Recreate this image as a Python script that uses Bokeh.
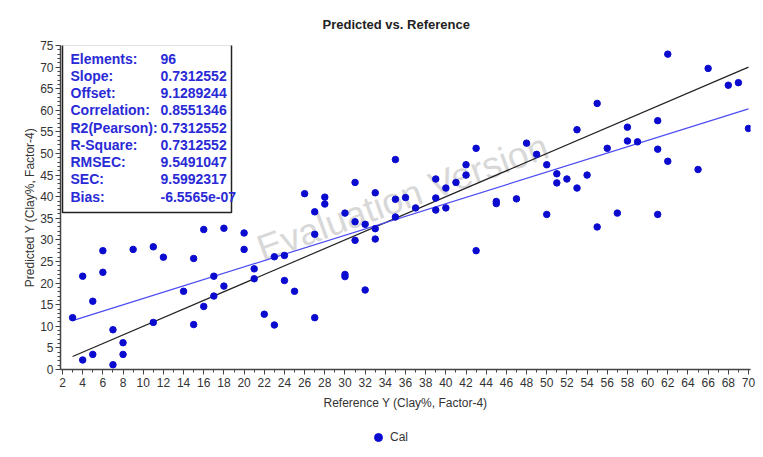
from bokeh.plotting import figure
from bokeh.layouts import column
from bokeh.models import (Range1d, Label, Legend, LegendItem, BoxAnnotation, FixedTicker,
                          ColumnDataSource)
from bokeh.embed import file_html
from bokeh.resources import INLINE

# ---- data ----
ref_x = [26, 3, 4, 5, 6, 6, 4, 5, 7, 7, 8, 8, 9, 11, 12, 11, 14, 15, 15, 16,
         16, 17, 17, 18, 18, 20, 20, 21, 21, 22, 23, 23, 24, 24, 25,
         27, 27, 27, 28, 28, 30, 30, 30, 31, 31, 31, 32, 32, 33, 33, 33,
         35, 35, 35, 36, 37, 39, 39, 39, 40, 40, 41, 42, 42, 43, 43, 45, 45,
         47, 48, 49, 50, 50, 51, 51, 52, 53, 53, 54, 55, 55, 56, 57, 58, 58,
         59, 61, 61, 61, 62, 62, 65, 66, 68, 69, 70]
pred_y = [40.7, 12.0, 21.6, 15.8, 27.5, 22.5, 2.2, 3.5, 9.2, 1.1, 6.2, 3.5, 27.8, 28.4, 26.0, 10.9, 18.1, 25.7, 10.4, 32.4,
          14.6, 21.6, 17.0, 32.7, 19.3, 31.6, 27.8, 23.3, 21.0, 12.8, 26.1, 10.3, 26.4, 20.6, 18.1,
          12.0, 36.5, 31.3, 39.9, 38.3, 36.2, 21.5, 22.0, 43.3, 34.2, 29.9, 33.6, 18.4, 40.9, 32.6, 30.2,
          48.6, 39.4, 35.3, 39.8, 37.4, 44.1, 39.7, 36.9, 42.0, 37.4, 43.3, 47.4, 45.0, 51.2, 27.5, 38.9, 38.4,
          39.5, 52.4, 49.8, 47.4, 35.9, 45.3, 43.2, 44.1, 55.5, 42.0, 45.0, 61.6, 33.0, 51.2, 36.2, 56.1, 52.9,
          52.7, 57.6, 51.0, 35.9, 73.0, 48.2, 46.3, 69.7, 65.8, 66.4, 55.8]

slope = 0.7312552
offset = 9.1289244

stat_names = ["Elements:", "Slope:", "Offset:", "Correlation:", "R2(Pearson):",
              "R-Square:", "RMSEC:", "SEC:", "Bias:"]
stat_values = ["96", "0.7312552", "9.1289244", "0.8551346", "0.7312552",
               "0.7312552", "9.5491047", "9.5992317", "-6.5565e-07"]

x_ticks = list(range(2, 71, 2))
x_minor = list(range(2, 71, 1))
y_ticks = list(range(0, 76, 5))
y_minor = list(range(0, 76, 1))

title_text = "Predicted vs. Reference"
x_label = "Reference Y (Clay%, Factor-4)"
y_label = "Predicted Y (Clay%, Factor-4)"
series_name = "Cal"
watermark = "Evaluation Version"

NARROW = "Liberation Sans Narrow, Liberation Sans, Arial Narrow, sans-serif"
POINT_BLUE = "#0b0bd0"
TEXT_BLUE = "#2a2ad6"

p = figure(width=763, height=420, output_backend="svg", toolbar_location=None,
           x_range=Range1d(1.8, 70.2), y_range=Range1d(0, 75),
           min_border_left=60, min_border_right=13, min_border_top=42, min_border_bottom=51)
p.outline_line_color = None
p.xgrid.visible = False
p.ygrid.visible = False
p.background_fill_color = "white"
p.border_fill_color = "white"

p.title.text = title_text
p.title.align = "left"
p.title.offset = 262
p.title.standoff = 28
p.title.text_font = NARROW
p.title.text_font_size = "13px"
p.title.text_font_style = "bold"
p.title.text_color = "#222222"

for ax, ticks, minor in ((p.xaxis[0], x_ticks, x_minor), (p.yaxis[0], y_ticks, y_minor)):
    ax.ticker = FixedTicker(ticks=ticks, minor_ticks=minor)
    ax.axis_line_color = "#444444"
    ax.axis_line_width = 1.5
    ax.major_tick_line_color = "#444444"
    ax.minor_tick_line_color = "#444444"
    ax.major_tick_in = 0
    ax.major_tick_out = 5
    ax.minor_tick_in = 0
    ax.minor_tick_out = 3
    ax.major_label_text_font = NARROW
    ax.major_label_text_font_size = "12px"
    ax.major_label_text_color = "#333333"
    ax.axis_label_text_font = NARROW
    ax.axis_label_text_font_size = "12px"
    ax.axis_label_text_font_style = "normal"
    ax.axis_label_text_color = "#333333"

p.xaxis.axis_label = x_label
p.yaxis.axis_label = y_label
p.xaxis.major_label_standoff = 3
p.xaxis.axis_label_standoff = 6
p.yaxis.major_label_standoff = 2
p.yaxis.axis_label_standoff = 0

# watermark
p.add_layout(Label(x=342, y=172, x_units="screen", y_units="screen", text=watermark,
                   angle=20, angle_units="deg", text_align="center", text_baseline="middle",
                   text_font="Liberation Sans", text_font_size="37px",
                   text_color="#d8d8d8", level="underlay"))

# lines
lx = [min(ref_x), max(ref_x)]
p.line(lx, lx, line_color="#222222", line_width=1.2)
p.line(lx, [slope * v + offset for v in lx], line_color="#4b4bf0", line_width=1.2)

src = ColumnDataSource(dict(x=ref_x, y=pred_y))
r = p.scatter("x", "y", source=src, size=6.5, fill_color=POINT_BLUE, line_color=POINT_BLUE)

# stats box
p.add_layout(BoxAnnotation(left=2, right=171, top=325, bottom=157,
                           left_units="screen", right_units="screen",
                           top_units="screen", bottom_units="screen",
                           fill_color="white", fill_alpha=1.0,
                           line_color="#222222", line_width=1.5, line_alpha=1.0))
row_y0 = 311
row_step = 17.25
for i, (nm, val) in enumerate(zip(stat_names, stat_values)):
    yy = row_y0 - i * row_step
    p.add_layout(Label(x=10, y=yy, x_units="screen", y_units="screen", text=nm,
                       text_align="left", text_baseline="middle",
                       text_font=NARROW, text_font_size="14px",
                       text_font_style="bold", text_color=TEXT_BLUE))
    p.add_layout(Label(x=100, y=yy, x_units="screen", y_units="screen", text=val,
                       text_align="left", text_baseline="middle",
                       text_font=NARROW, text_font_size="14px",
                       text_font_style="bold", text_color=TEXT_BLUE))

# legend strip below the chart: same series, its ranges lie outside the data so nothing is drawn
p2 = figure(width=763, height=37, output_backend="svg", toolbar_location=None,
            x_axis_type=None, y_axis_type=None, x_range=Range1d(-20, -10), y_range=Range1d(-20, -10),
            min_border_left=0, min_border_right=0, min_border_top=0, min_border_bottom=0)
p2.outline_line_color = None
p2.xgrid.visible = False
p2.ygrid.visible = False
p2.background_fill_color = "white"
p2.border_fill_color = "white"
r2 = p2.scatter("x", "y", source=src, size=6.5, fill_color=POINT_BLUE, line_color=POINT_BLUE)
legend = Legend(items=[LegendItem(label=series_name, renderers=[r2])],
                location=(308, 10), orientation="horizontal",
                padding=0, margin=0, spacing=0,
                glyph_width=20, glyph_height=20, label_height=20,
                label_standoff=2,
                label_text_font=NARROW, label_text_font_size="12px", label_text_color="#333333",
                border_line_color=None, background_fill_alpha=0)
p2.add_layout(legend)

layout = column(p, p2, spacing=0)
open("out.html", "w").write(file_html(layout, INLINE))
